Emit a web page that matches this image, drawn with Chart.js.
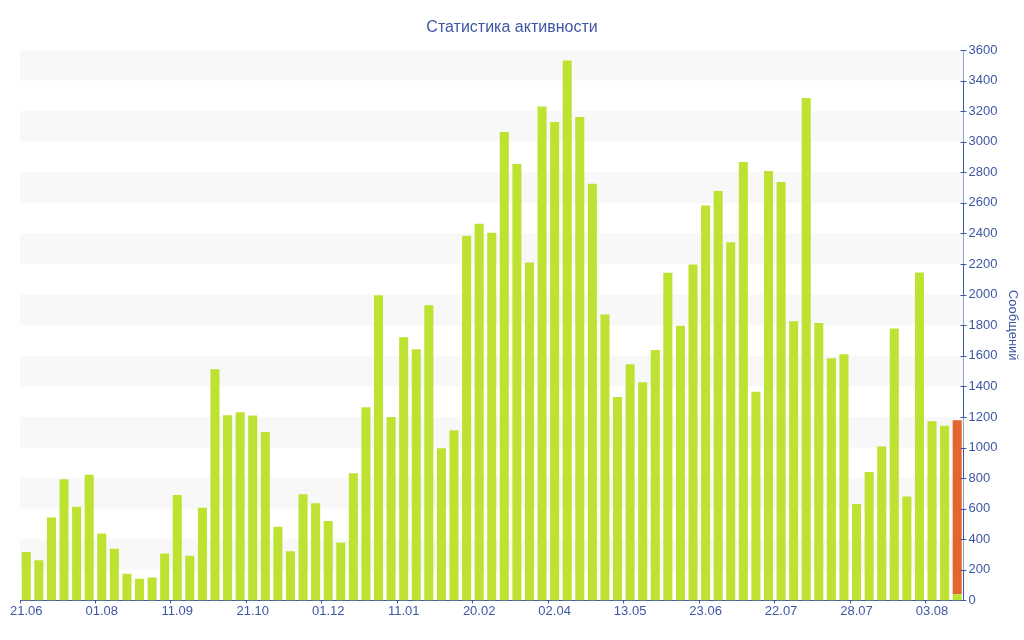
<!DOCTYPE html>
<html>
<head>
<meta charset="utf-8">
<script src="https://cdn.jsdelivr.net/npm/chart.js@4.4.0/dist/chart.umd.min.js"></script>
<style>
html,body{margin:0;padding:0;background:#fff;}
#wrap{width:1024px;height:640px;}
</style>
</head>
<body>
<div id="wrap"><canvas id="c" width="1024" height="640"></canvas></div>
<script>
const categories = [
 '21.06','','','','','',
 '01.08','','','','','',
 '11.09','','','','','',
 '21.10','','','','','',
 '01.12','','','','','',
 '11.01','','','','','',
 '20.02','','','','','',
 '02.04','','','','','',
 '13.05','','','','','',
 '23.06','','','','','',
 '22.07','','','','','',
 '28.07','','','','','',
 '03.08','',''
];
const messages = [
 316,262,543,792,613,822,438,338,174,142,150,307,689,292,606,1512,1211,1230,1209,1102,
 482,321,694,635,519,378,831,1263,1996,1200,1721,1643,1931,995,1113,2385,2463,2404,3063,2854,
 2210,3231,3129,3532,3161,2725,1870,1331,1545,1427,1638,2143,1796,2197,2583,2677,2343,2867,1364,2808,
 2736,1826,3286,1815,1584,1610,630,840,1006,1778,679,2145,1171,1143,40
];
const today = [
 0,0,0,0,0,0,0,0,0,0,0,0,0,0,0,0,0,0,0,0,
 0,0,0,0,0,0,0,0,0,0,0,0,0,0,0,0,0,0,0,0,
 0,0,0,0,0,0,0,0,0,0,0,0,0,0,0,0,0,0,0,0,
 0,0,0,0,0,0,0,0,0,0,0,0,0,0,1138
];
const bandStarts = [200,600,1000,1400,1800,2200,2600,3000,3400];
const bandSize = 200;
const yMax = 3600;
const titleText = 'Статистика активности';

const BLUE = '#3d57a3';
const FONT = "'Liberation Sans', Arial, sans-serif";

const bandsPlugin = {
  id: 'bands',
  beforeDatasetsDraw(chart) {
    const {ctx, chartArea, scales} = chart;
    const y = scales.y;
    ctx.save();
    ctx.fillStyle = '#f8f8f8';
    bandStarts.forEach(v => {
      const top = y.getPixelForValue(v + bandSize);
      const bot = y.getPixelForValue(v);
      ctx.fillRect(chartArea.left, top, chartArea.right - chartArea.left, bot - top);
    });
    ctx.restore();
  }
};

const yTicksPlugin = {
  id: 'yticks',
  afterDraw(chart) {
    const {ctx, scales} = chart;
    const y = scales.y;
    const x0 = y.left;
    ctx.save();
    ctx.strokeStyle = BLUE;
    ctx.lineWidth = 1;
    y.ticks.forEach(t => {
      const py = Math.round(y.getPixelForValue(t.value)) + 0.5;
      const major = t.value % 200 === 0;
      ctx.beginPath();
      ctx.moveTo(x0 - 3, py);
      ctx.lineTo(major ? x0 + 3 : x0, py);
      ctx.stroke();
    });
    ctx.restore();
  }
};

const titlePlugin = {
  id: 'centerTitle',
  afterDraw(chart) {
    const {ctx, width} = chart;
    ctx.save();
    ctx.fillStyle = BLUE;
    ctx.font = "16px " + FONT;
    ctx.textAlign = 'center';
    ctx.textBaseline = 'alphabetic';
    ctx.fillText(titleText, width / 2, 32);
    ctx.restore();
  }
};

new Chart(document.getElementById('c'), {
  type: 'bar',
  data: {
    labels: categories,
    datasets: [
      {label: 'Сообщений', data: messages, backgroundColor: '#bde232', borderWidth: 0},
      {label: 'Сегодня', data: today, backgroundColor: '#e2662f', borderWidth: 0}
    ]
  },
  options: {
    responsive: false,
    animation: false,
    devicePixelRatio: 1,
    layout: {padding: {left: 20, right: 2, top: 50, bottom: 21}},
    datasets: {bar: {categoryPercentage: 1.0, barPercentage: 0.72}},
    plugins: {
      legend: {display: false},
      tooltip: {enabled: false},
      title: {display: false}
    },
    scales: {
      x: {
        stacked: true,
        grid: {
          drawOnChartArea: false,
          tickLength: 3,
          tickColor: ctx => (ctx.tick && ctx.tick.label) ? BLUE : 'rgba(0,0,0,0)'
        },
        border: {color: BLUE, width: 1},
        ticks: {
          autoSkip: false,
          maxRotation: 0,
          color: BLUE,
          padding: 0,
          font: {family: FONT, size: 13}
        }
      },
      y: {
        stacked: true,
        position: 'right',
        min: 0,
        max: yMax,
        grid: {display: false, drawTicks: false},
        border: {display: true, color: BLUE, width: 1},
        ticks: {
          stepSize: 100,
          color: BLUE,
          padding: 5,
          font: {family: FONT, size: 13},
          callback: v => (v % 200 === 0 ? v : '')
        },
        title: {
          display: true,
          text: 'Сообщений',
          color: BLUE,
          font: {family: FONT, size: 13},
          padding: {top: 2, bottom: 2}
        }
      }
    }
  },
  plugins: [bandsPlugin, yTicksPlugin, titlePlugin]
});
</script>
</body>
</html>
